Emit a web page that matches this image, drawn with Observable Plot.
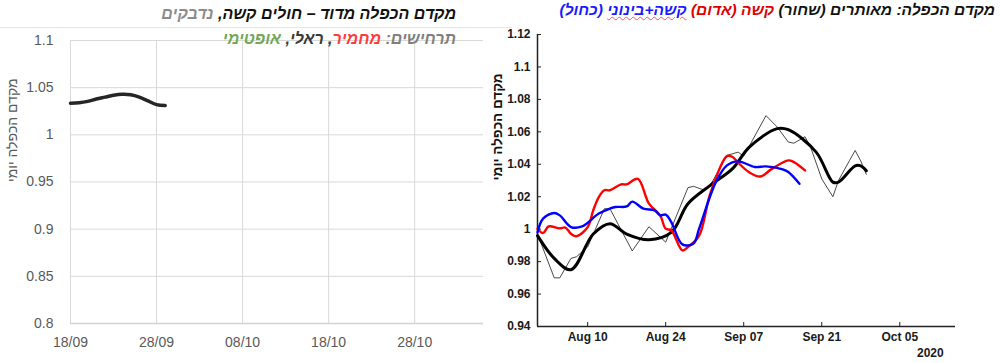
<!DOCTYPE html>
<html><head><meta charset="utf-8">
<script src="https://cdn.jsdelivr.net/npm/d3@7"></script>
<script src="https://cdn.jsdelivr.net/npm/@observablehq/plot@0.6"></script>
<style>
body{margin:0;background:#fff;}
#wrap{position:relative;width:1000px;height:363px;overflow:hidden;font-family:"Liberation Sans",Arial,"DejaVu Sans",sans-serif;}
.abs{position:absolute;}
.title{direction:rtl;white-space:nowrap;font-weight:bold;font-style:italic;font-size:16px;line-height:18px;}
</style></head><body>
<div id="wrap">
  <div id="left" class="abs" style="left:0;top:0"></div>
  <div id="right" class="abs" style="left:480px;top:0"></div>
  <div class="abs" style="left:0;top:27px;width:512px;height:1px;background:#e6e6e6"></div>
  <div class="abs title" style="right:544px;top:5px;"><span style="color:#111">מקדם הכפלה מדוד – חולים קשה,</span> <span style="color:#8c8c8c">נדבקים</span></div>
  <div class="abs title" style="right:544px;top:30px;"><span style="color:#7f7f7f">תרחישים:</span> <span style="color:#ff3b3b">מחמיר</span><span style="color:#3a3a3a">, ראלי,</span> <span style="color:#72a854">אופטימי</span></div>
  <div class="abs title" style="right:5px;top:1px;font-size:15.5px;"><span style="color:#111">מקדם הכפלה: מאותרים (שחור)</span> <span style="color:#e00000">קשה (אדום)</span> <span style="color:#1a1aff"><span style="text-decoration:underline wavy #f55;text-decoration-thickness:1px">קשה+בינוני</span> (כחול)</span></div>
  <div class="abs" style="left:917px;top:346px;font-weight:bold;font-size:12px;color:#1a1a1a">2020</div>
</div>
<script>
const parse = d3.utcParse("%Y-%m-%d");

// ---- left panel data ----
const leftXTicks = ["2020-09-18","2020-09-28","2020-10-08","2020-10-18","2020-10-28"];
const leftYTicks = [0.8,0.85,0.9,0.95,1,1.05,1.1];
const leftYLabel = "מקדם הכפלה יומי";
const leftMeasured = [
  ["2020-09-18",1.0335],["2020-09-19",1.034],["2020-09-20",1.0355],["2020-09-21",1.038],
  ["2020-09-22",1.040],["2020-09-23",1.042],["2020-09-24",1.043],["2020-09-25",1.0425],
  ["2020-09-26",1.040],["2020-09-27",1.036],["2020-09-28",1.032],["2020-09-29",1.031]
];

// ---- right panel data ----
const rightXTicks = ["2020-08-10","2020-08-24","2020-09-07","2020-09-21","2020-10-05"];
const rightYTicks = [0.94,0.96,0.98,1,1.02,1.04,1.06,1.08,1.1,1.12];
const rightYLabel = "מקדם הכפלה יומי";
const detectedRaw = [
  ["2020-08-01",0.997],["2020-08-04",0.970],["2020-08-05",0.970],["2020-08-07",0.982],
  ["2020-08-08",0.983],["2020-08-10",0.989],["2020-08-13",1.0126],["2020-08-14",1.0126],
  ["2020-08-18",0.9866],["2020-08-21",1.0015],["2020-08-24",0.992],["2020-08-28",1.0256],
  ["2020-08-29",1.0264],["2020-08-31",1.024],["2020-09-01",1.027],["2020-09-04",1.0455],
  ["2020-09-06",1.0475],["2020-09-07",1.045],["2020-09-11",1.070],["2020-09-13",1.063],
  ["2020-09-15",1.0537],["2020-09-16",1.053],["2020-09-18",1.057],["2020-09-19",1.0506],
  ["2020-09-21",1.031],["2020-09-23",1.020],["2020-09-24",1.030],["2020-09-26",1.0424],
  ["2020-09-27",1.0485],["2020-09-28",1.042],["2020-09-29",1.0338]
];
const detectedSmooth = [
  ["2020-08-01",0.996],["2020-08-04",0.982],["2020-08-07",0.975],["2020-08-11",0.997],
  ["2020-08-14",1.0034],["2020-08-17",0.997],["2020-08-21",0.9935],["2020-08-25",0.998],
  ["2020-08-28",1.0157],["2020-09-01",1.027],["2020-09-05",1.0373],["2020-09-08",1.0506],
  ["2020-09-13",1.062],["2020-09-15",1.0613],["2020-09-20",1.0475],["2020-09-23",1.029],
  ["2020-09-24",1.029],["2020-09-27",1.039],["2020-09-28",1.039],["2020-09-29",1.036]
];
const severe = [
  ["2020-08-01",1.0003],["2020-08-02",0.9976],["2020-08-03",1.0017],["2020-08-05",1.0005],
  ["2020-08-06",1.001],["2020-08-07",0.9972],["2020-08-08",0.9956],["2020-08-10",1.0013],
  ["2020-08-11",1.0116],["2020-08-12",1.0198],["2020-08-13",1.024],["2020-08-14",1.024],
  ["2020-08-16",1.0276],["2020-08-17",1.0276],["2020-08-19",1.031],["2020-08-21",1.0157],
  ["2020-08-23",1.0085],["2020-08-24",1.0003],["2020-08-25",0.9993],["2020-08-27",0.9869],
  ["2020-08-28",0.989],["2020-08-30",0.996],["2020-09-01",1.0219],["2020-09-04",1.045],
  ["2020-09-05",1.0445],["2020-09-06",1.041],["2020-09-08",1.035],["2020-09-10",1.0325],
  ["2020-09-12",1.037],["2020-09-15",1.0424],["2020-09-16",1.0413],["2020-09-18",1.0362]
];
const severeModerate = [
  ["2020-08-01",0.998],["2020-08-02",1.0065],["2020-08-04",1.010],["2020-08-05",1.0085],
  ["2020-08-07",1.0013],["2020-08-09",1.0017],["2020-08-12",1.0096],["2020-08-14",1.0127],
  ["2020-08-15",1.0137],["2020-08-17",1.014],["2020-08-18",1.017],["2020-08-20",1.0126],
  ["2020-08-22",1.0116],["2020-08-23",1.0085],["2020-08-24",1.009],["2020-08-25",1.0044],
  ["2020-08-27",0.9906],["2020-08-29",0.9912],["2020-08-30",1.0003],["2020-09-02",1.029],
  ["2020-09-04",1.0393],["2020-09-06",1.0418],["2020-09-09",1.0383],["2020-09-11",1.0387],
  ["2020-09-14",1.0368],["2020-09-15",1.0352],["2020-09-17",1.028]
];

const fmt = d => String(+(+d).toFixed(2));
const px = d => parse(d[0]);
const py = d => d[1];
const FONT = "Liberation Sans, Arial, DejaVu Sans, sans-serif";

const lxt = leftXTicks.map(parse);
const leftPlot = Plot.plot({
  width: 500, height: 363,
  marginLeft: 70, marginRight: 17, marginTop: 40, marginBottom: 40,
  style: {fontFamily: FONT, fontSize: "14px", color: "#595959", background: "transparent", overflow: "visible"},
  x: {type: "utc", domain: [parse("2020-09-18"), parse("2020-11-05")]},
  y: {domain: [0.8, 1.1]},
  marks: [
    Plot.gridX(lxt, {stroke: "#d9d9d9", strokeOpacity: 1}),
    Plot.gridY(leftYTicks, {stroke: "#d9d9d9", strokeOpacity: 1}),
    Plot.ruleY([0.8], {stroke: "#d3d3d3", strokeWidth: 1.5}),
    Plot.axisX(lxt, {tickSize: 0, tickPadding: 14, tickFormat: d3.utcFormat("%d/%m"), label: null, fill: "#595959"}),
    Plot.axisY(leftYTicks, {tickSize: 0, tickPadding: 17, tickFormat: fmt, label: null, fill: "#595959"}),
    Plot.text([leftYLabel], {text: d => d, frameAnchor: "left", rotate: -90, dx: -58, fill: "#595959", fontSize: 14}),
    Plot.line(leftMeasured, {x: px, y: py, stroke: "#262626", strokeWidth: 3.5, curve: "catmull-rom"})
  ]
});
document.getElementById("left").appendChild(leftPlot);

const rxt = rightXTicks.map(parse);
const rightPlot = Plot.plot({
  width: 520, height: 363,
  marginLeft: 57, marginRight: 45, marginTop: 34, marginBottom: 37,
  style: {fontFamily: FONT, fontSize: "12px", color: "#1a1a1a", background: "transparent", overflow: "visible"},
  x: {type: "utc", domain: [parse("2020-08-01"), parse("2020-10-15")]},
  y: {domain: [0.94, 1.12]},
  marks: [
    Plot.tickY(rightYTicks, {y: d => d, insetRight: 414, stroke: "#222", strokeWidth: 1}),
    Plot.tickX(rxt, {x: d => d, insetTop: 288, stroke: "#222", strokeWidth: 1}),
    Plot.ruleX([parse("2020-08-01")], {stroke: "#222", strokeWidth: 1.5}),
    Plot.ruleY([0.94], {stroke: "#222", strokeWidth: 1.5}),
    Plot.axisX(rxt, {tickSize: 0, tickPadding: 6, tickFormat: d3.utcFormat("%b %d"), label: null, fontWeight: "bold", fill: "#1a1a1a"}),
    Plot.axisY(rightYTicks, {tickSize: 0, tickPadding: 7, tickFormat: fmt, label: null, fontWeight: "bold", fill: "#1a1a1a"}),
    Plot.text([rightYLabel], {text: d => d, frameAnchor: "left", rotate: -90, dx: -40, fill: "#111", fontWeight: "bold", fontSize: 13.5}),
    Plot.line(detectedRaw, {x: px, y: py, stroke: "#333", strokeWidth: 0.9}),
    Plot.line(detectedSmooth, {x: px, y: py, stroke: "#000", strokeWidth: 3, curve: "catmull-rom"}),
    Plot.line(severe, {x: px, y: py, stroke: "#ff0000", strokeWidth: 2.4, curve: "catmull-rom"}),
    Plot.line(severeModerate, {x: px, y: py, stroke: "#0000ff", strokeWidth: 2.4, curve: "catmull-rom"})
  ]
});
document.getElementById("right").appendChild(rightPlot);
</script>
</body></html>
